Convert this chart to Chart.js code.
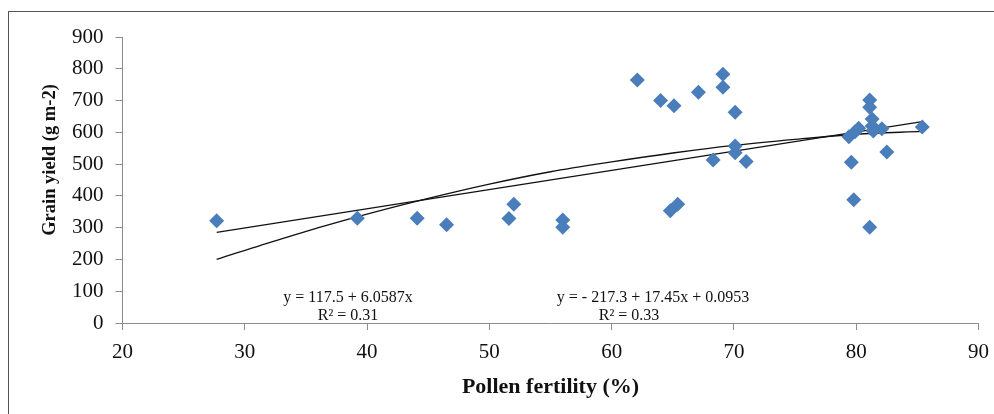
<!DOCTYPE html>
<html>
<head>
<meta charset="utf-8">
<script src="https://cdn.jsdelivr.net/npm/chart.js@4/dist/chart.umd.min.js"></script>
<style>
  html, body { margin: 0; padding: 0; background: #fff; }
  #wrap { position: relative; width: 994px; height: 414px; }
</style>
</head>
<body>
<div id="wrap"><canvas id="chart" width="994" height="414"></canvas></div>
<script>
// observed points: pollen fertility (%) vs grain yield (g m-2)
const fertility = [27.7, 39.2, 44.1, 46.5, 51.6, 52.0, 56.0, 56.0, 62.1, 64.0, 65.1, 67.1, 69.1, 69.1, 70.1, 70.1, 70.1, 68.3, 71.0, 64.8, 65.4, 79.4, 79.9, 80.2, 79.6, 79.8, 81.1, 81.1, 81.1, 81.3, 81.3, 81.4, 82.1, 82.5, 85.4];
const grainYield = [322, 330, 330, 309, 329, 374, 324, 301, 765, 700, 684, 726, 783, 742, 663, 557, 536, 513, 508, 353, 374, 586, 602, 613, 506, 388, 301, 702, 679, 642, 620, 604, 611, 538, 617];

// linear trend line end points
const linearX = [27.7, 85.4];
const linearY = [285, 634];

// quadratic trend curve
const curveX = [27.7, 33, 39, 45, 50, 55, 60, 65, 70, 75, 80, 85.4];
const curveY = [200, 265, 332, 392, 437, 476, 507, 535, 559, 578, 594, 603];

const xTicks = [20, 30, 40, 50, 60, 70, 80, 90];
const yTicks = [0, 100, 200, 300, 400, 500, 600, 700, 800, 900];

const xTitle = "Pollen fertility (%)";
const yTitle = "Grain yield (g m-2)";
const linearEq = ["y = 117.5 + 6.0587x", "R² = 0.31"];
const quadEq = ["y = - 217.3 + 17.45x + 0.0953", "R² = 0.33"];

const serif = "'Liberation Serif', 'Times New Roman', serif";
const axisGray = "#8c8c8c";

const toPoints = (xs, ys) => xs.map((x, i) => ({ x, y: ys[i] }));

const annotations = {
  id: "annotations",
  beforeDraw(chart) {
    const ctx = chart.ctx;
    ctx.save();
    ctx.fillStyle = "#fff";
    ctx.fillRect(0, 0, chart.width, chart.height);
    // outer frame, runs off the right and bottom edges
    ctx.strokeStyle = "#555";
    ctx.lineWidth = 1;
    ctx.strokeRect(8.5, 11.5, 1100, 600);
    ctx.restore();
  },
  afterDraw(chart) {
    const ctx = chart.ctx;
    const area = chart.chartArea;
    ctx.save();
    ctx.fillStyle = "#111";
    ctx.textAlign = "center";
    ctx.textBaseline = "middle";

    ctx.font = `bold 22px ${serif}`;
    ctx.fillText(xTitle, (area.left + area.right) / 2, 387);

    ctx.save();
    ctx.translate(50, 160);
    ctx.rotate(-Math.PI / 2);
    ctx.font = `bold 18.5px ${serif}`;
    ctx.fillText(yTitle, 0, 0);
    ctx.restore();

    ctx.font = `16px ${serif}`;
    ctx.fillText(linearEq[0], 348, 298);
    ctx.fillText(linearEq[1], 348, 316);
    ctx.fillText(quadEq[0], 653, 298);
    ctx.fillText(quadEq[1], 629, 316);
    ctx.restore();
  },
};

new Chart(document.getElementById("chart").getContext("2d"), {
  type: "scatter",
  data: {
    datasets: [
      {
        label: "Grain yield",
        data: toPoints(fertility, grainYield),
        pointStyle: "rectRot",
        pointRadius: 7.5,
        backgroundColor: "#4a7ebb",
        borderColor: "#4a7ebb",
        borderWidth: 0,
      },
      {
        label: "Linear",
        data: toPoints(linearX, linearY),
        showLine: true,
        pointRadius: 0,
        borderColor: "#111",
        borderWidth: 1.3,
      },
      {
        label: "Quadratic",
        data: toPoints(curveX, curveY),
        showLine: true,
        pointRadius: 0,
        cubicInterpolationMode: "monotone",
        borderColor: "#111",
        borderWidth: 1.3,
      },
    ],
  },
  options: {
    responsive: false,
    animation: false,
    layout: { padding: { top: 37, right: 15.5, left: 0, bottom: 0 } },
    plugins: {
      legend: { display: false },
      tooltip: { enabled: false },
    },
    scales: {
      x: {
        type: "linear",
        min: 20,
        max: 90,
        afterFit(scale) {
          scale.height = 91;
          scale.paddingLeft = 0;
          scale.paddingRight = 0;
        },
        afterBuildTicks(scale) { scale.ticks = xTicks.map((value) => ({ value })); },
        ticks: {
          color: "#111",
          padding: 10,
          font: { family: serif, size: 21 },
        },
        grid: { drawOnChartArea: false, tickLength: 7, color: axisGray },
        border: { color: axisGray, width: 1 },
      },
      y: {
        min: 0,
        max: 900,
        afterFit(scale) {
          scale.width = 122.5;
          scale.paddingTop = 0;
          scale.paddingBottom = 0;
        },
        afterBuildTicks(scale) { scale.ticks = yTicks.map((value) => ({ value })); },
        ticks: {
          color: "#111",
          padding: 12,
          font: { family: serif, size: 21 },
        },
        grid: { drawOnChartArea: false, tickLength: 7, color: axisGray },
        border: { color: axisGray, width: 1 },
      },
    },
  },
  plugins: [annotations],
});
</script>
</body>
</html>
